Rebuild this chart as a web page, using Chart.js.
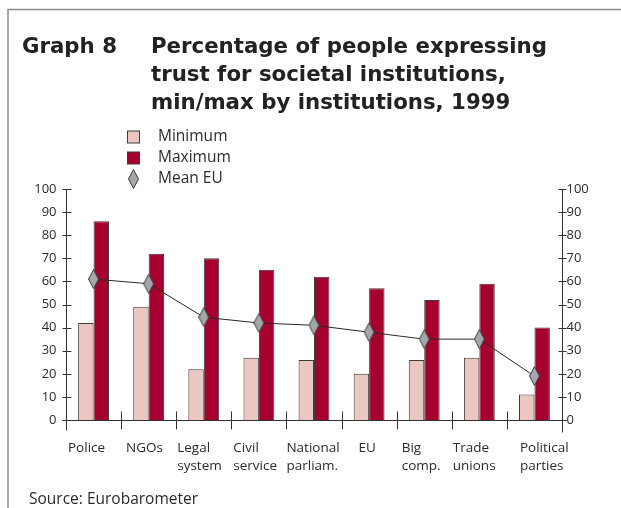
<!DOCTYPE html>
<html>
<head>
<meta charset="utf-8">
<script src="https://cdn.jsdelivr.net/npm/chart.js@4"></script>
<style>
  html, body { margin: 0; padding: 0; background: #fff; }
  #wrap { position: relative; width: 621px; height: 508px; overflow: hidden; }
  #chart { position: absolute; left: 0; top: 0; }
  .title { position: absolute; font-family: "DejaVu Sans", sans-serif; font-weight: bold;
           font-size: 21.3px; line-height: 28px; color: #222; white-space: nowrap; }
  #source { position: absolute; left: 29px; top: 488px; font-family: "Open Sans", sans-serif;
            font-size: 15.5px; line-height: 20px; color: #2b2b2b; }
</style>
</head>
<body>
<div id="wrap">
  <canvas id="chart" width="621" height="508"></canvas>
  <div class="title" style="left:22px; top:32px;">Graph 8</div>
  <div class="title" style="left:151px; top:32px;">Percentage of people expressing<br>trust for societal institutions,<br>min/max by institutions, 1999</div>
  <div id="source">Source: Eurobarometer</div>
</div>
<script>
// Data
const institutions = [
  ['Police'], ['NGOs'], ['Legal', 'system'], ['Civil', 'service'], ['National', 'parliam.'],
  ['EU'], ['Big', 'comp.'], ['Trade', 'unions'], ['Political', 'parties']
];
const minimum = [42, 49, 22, 27, 26, 20, 26, 27, 11];
const maximum = [86, 72, 70, 65, 62, 57, 52, 59, 40];
const meanEU = [61, 59, 44.5, 42, 41, 38, 35, 35, 19];
const yTicks = [0, 10, 20, 30, 40, 50, 60, 70, 80, 90, 100];

const colors = {
  min: '#ecc6c0',
  max: '#a6002f',
  barBorder: '#3c3c3c',
  diamond: '#a4a6a9',
  line: '#2a2a2a',
  axis: '#333333',
  text: '#2b2b2b',
  frame: '#8a8a8a'
};

// tall grey diamond used as point style and legend symbol
function makeDiamond() {
  const c = document.createElement('canvas');
  c.width = 11; c.height = 20;
  const g = c.getContext('2d');
  g.beginPath();
  g.moveTo(5.5, 0.5);
  g.lineTo(10.5, 10);
  g.lineTo(5.5, 19.5);
  g.lineTo(0.5, 10);
  g.closePath();
  g.fillStyle = colors.diamond;
  g.fill();
  g.strokeStyle = '#3a3a3a';
  g.lineWidth = 1;
  g.stroke();
  return c;
}
const diamond = makeDiamond();

// small horizontal shift of some category labels, as in the print layout
const labelIndent = [1, 4, 0, 1, -1, 16, 4, 0, 12];

const decorPlugin = {
  id: 'decor',
  beforeDraw: (chart) => {
    const {ctx} = chart;
    ctx.save();
    ctx.strokeStyle = colors.frame;
    ctx.lineWidth = 1.5;
    ctx.beginPath();
    ctx.moveTo(8, 508);
    ctx.lineTo(8, 9.5);
    ctx.lineTo(621, 9.5);
    ctx.stroke();
    ctx.restore();
  },
  afterDraw: (chart) => {
    const {ctx, chartArea} = chart;
    const x = chart.scales.x, y = chart.scales.y;
    const L = Math.round(chartArea.left) + 0.5;
    const R = Math.round(chartArea.right) + 0.5;
    const B = Math.round(y.getPixelForValue(0)) + 0.5;
    const T = Math.round(y.getPixelForValue(100));
    ctx.save();
    ctx.strokeStyle = colors.axis;
    ctx.lineWidth = 1;
    ctx.beginPath();
    // axes
    ctx.moveTo(L, T); ctx.lineTo(L, B + 10);
    ctx.moveTo(R, T); ctx.lineTo(R, B + 12);
    ctx.moveTo(L - 4, B); ctx.lineTo(R + 4, B);
    // y ticks on both sides
    yTicks.forEach(v => {
      const py = Math.round(y.getPixelForValue(v)) + 0.5;
      ctx.moveTo(L - 4, py); ctx.lineTo(L + 5, py);
      ctx.moveTo(R - 4, py); ctx.lineTo(R + 4, py);
    });
    // category boundaries
    const half = (x.getPixelForValue(1) - x.getPixelForValue(0)) / 2;
    for (let i = 1; i < institutions.length; i++) {
      const px = Math.round(x.getPixelForValue(i) - half) + 0.5;
      ctx.moveTo(px, B - 9); ctx.lineTo(px, B + 9);
    }
    ctx.stroke();

    ctx.fillStyle = colors.text;
    ctx.font = '13px "Open Sans"';
    ctx.textBaseline = 'middle';
    yTicks.forEach(v => {
      const py = y.getPixelForValue(v);
      ctx.textAlign = 'right';
      ctx.fillText(String(v), L - 10, py);
      ctx.textAlign = 'left';
      ctx.fillText(String(v), R + 4, py);
    });
    ctx.textAlign = 'left';
    ctx.font = '13.5px "Open Sans"';
    institutions.forEach((lines, i) => {
      const px = x.getPixelForValue(i) - half + 1 + labelIndent[i];
      lines.forEach((t, j) => ctx.fillText(t, px, B + 28 + j * 18));
    });

    // legend
    const legend = [
      {label: 'Minimum', fill: colors.min},
      {label: 'Maximum', fill: colors.max},
      {label: 'Mean EU', img: diamond}
    ];
    ctx.font = '15.5px "Open Sans"';
    legend.forEach((item, k) => {
      const cy = 137 + k * 21;
      if (item.img) {
        ctx.drawImage(item.img, 128, cy - 10);
      } else {
        ctx.fillStyle = item.fill;
        ctx.fillRect(127.5, cy - 6, 12, 12);
        ctx.strokeStyle = colors.barBorder;
        ctx.strokeRect(127.5, cy - 6, 12, 12);
      }
      ctx.fillStyle = colors.text;
      ctx.fillText(item.label, 158, cy);
    });
    ctx.restore();
  }
};

new Chart(document.getElementById('chart'), {
  type: 'bar',
  data: {
    labels: institutions,
    datasets: [
      {
        type: 'line',
        label: 'Mean EU',
        data: meanEU,
        borderColor: colors.line,
        borderWidth: 1,
        tension: 0,
        pointStyle: diamond,
        pointRadius: 10,
        order: 0
      },
      {
        label: 'Minimum',
        data: minimum,
        backgroundColor: colors.min,
        borderColor: colors.barBorder,
        borderWidth: 1,
        borderSkipped: 'bottom',
        categoryPercentage: 0.56,
        barPercentage: 1.0,
        order: 1
      },
      {
        label: 'Maximum',
        data: maximum,
        backgroundColor: colors.max,
        borderColor: colors.barBorder,
        borderWidth: 1,
        borderSkipped: 'bottom',
        categoryPercentage: 0.56,
        barPercentage: 1.0,
        order: 1
      }
    ]
  },
  options: {
    responsive: false,
    animation: false,
    layout: { padding: { left: 66, right: 59, top: 189, bottom: 88 } },
    scales: {
      x: { display: false, offset: true },
      y: { display: false, min: 0, max: 100 }
    },
    plugins: {
      legend: { display: false },
      title: { display: false },
      tooltip: { enabled: false }
    }
  },
  plugins: [decorPlugin]
});
</script>
</body>
</html>
